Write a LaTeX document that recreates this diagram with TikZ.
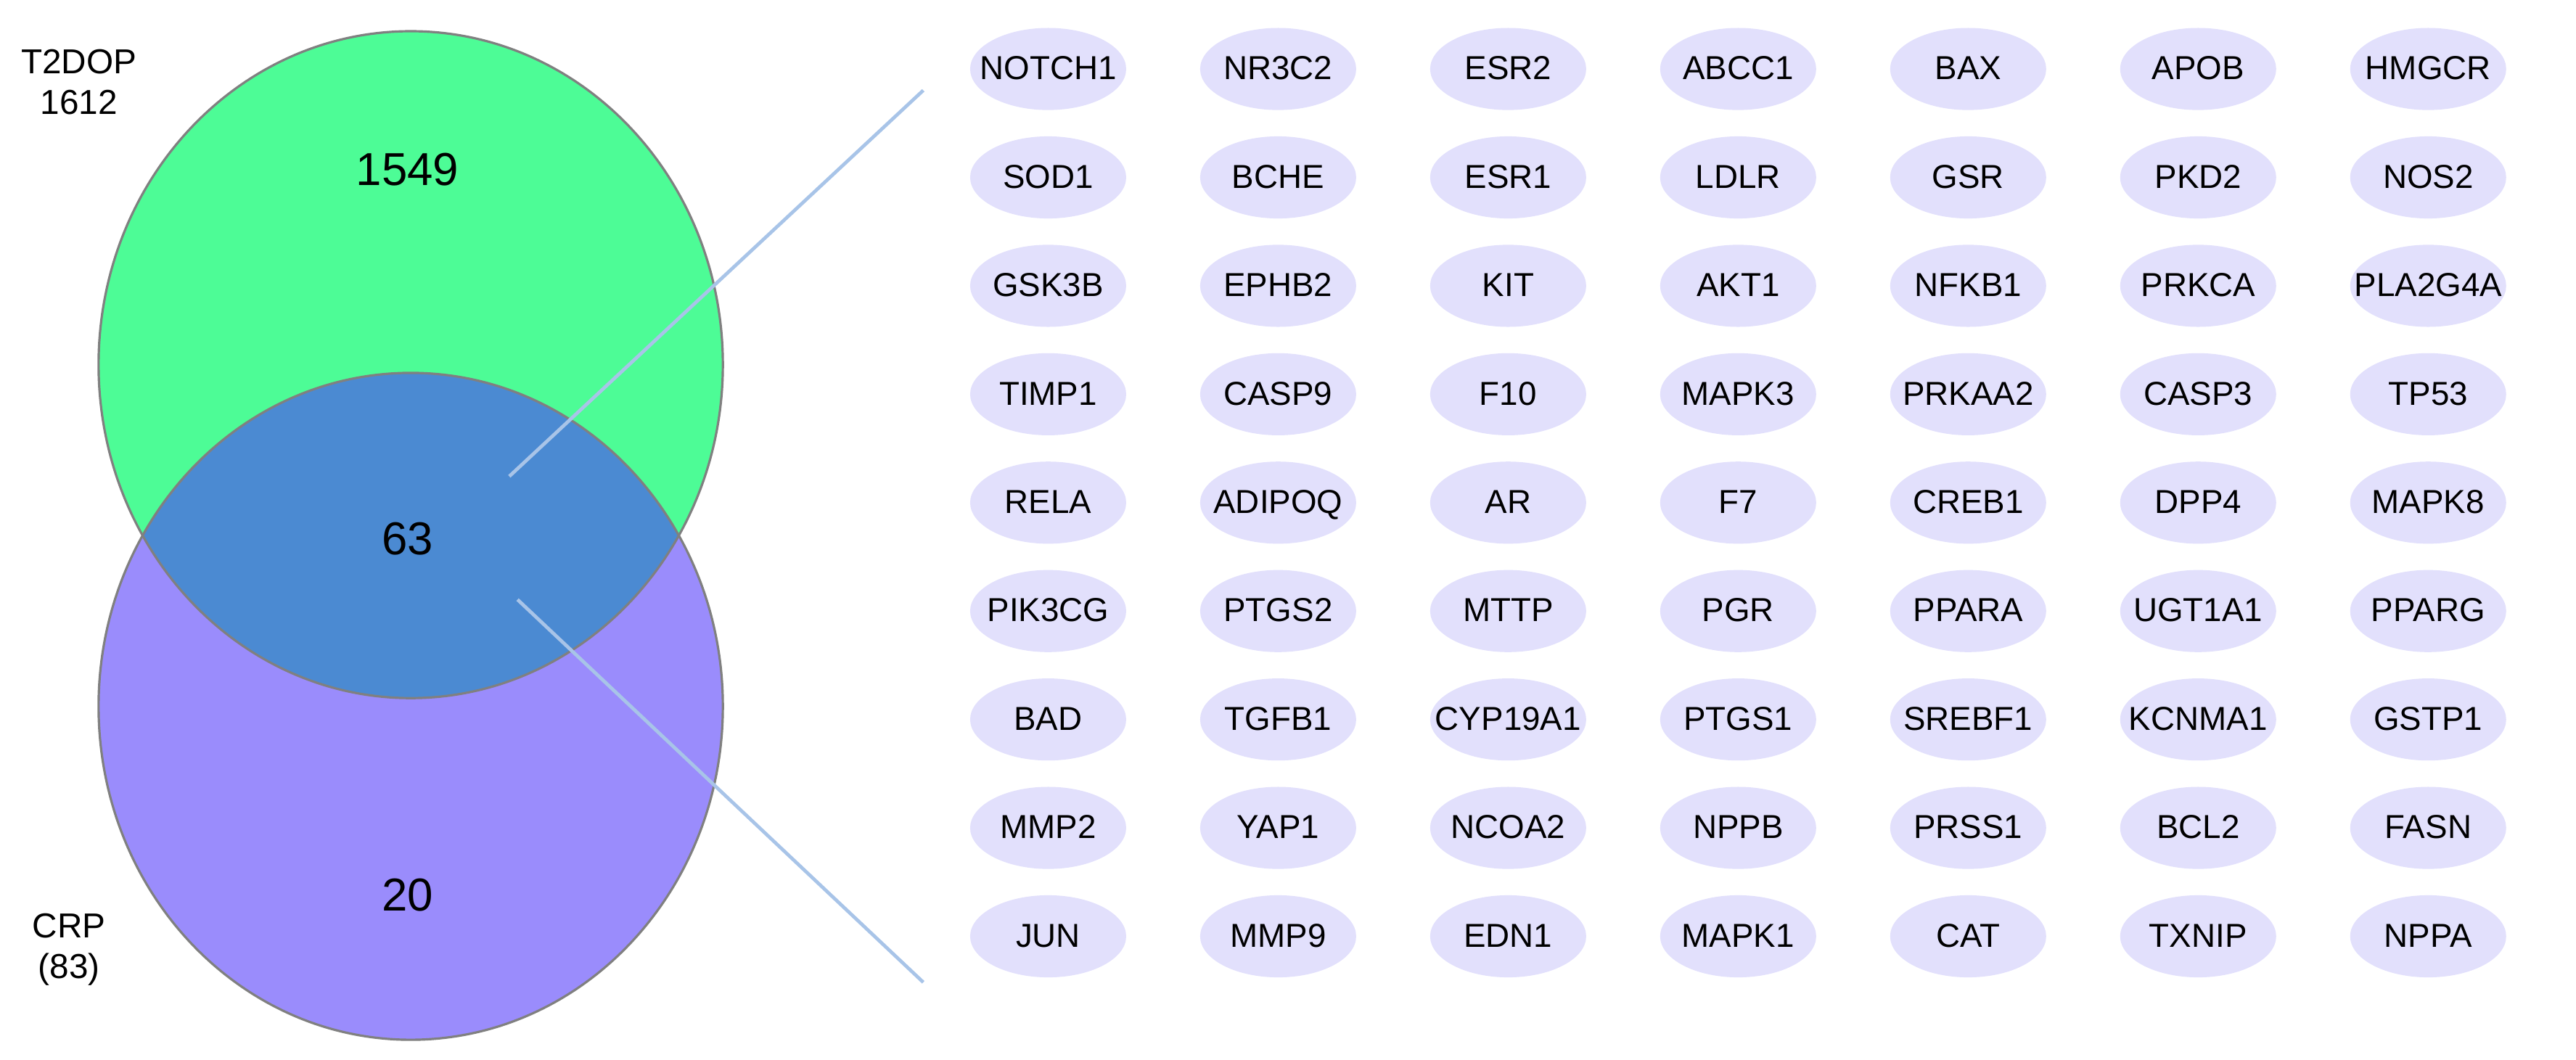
\documentclass[tikz,border=0pt]{standalone}
\usepackage{fontspec}
\setmainfont{Liberation Sans}
\definecolor{setgreen}{HTML}{4DFC96}
\definecolor{setpurple}{HTML}{9A8CFC}
\definecolor{setboth}{HTML}{4B8AD2}
\definecolor{genefill}{HTML}{E2E0FC}
\definecolor{linkblue}{HTML}{A8C4E8}
\tikzset{
  gene/.style = {ellipse, fill = genefill, minimum width = 1.9cm, minimum height = 1cm, inner sep = 0pt, text width = 1cm, align = center, text height = 1.6ex, text depth = 0.2ex, font = \fontsize{11.5}{13}\selectfont},
  count/.style = {font = \fontsize{16}{18}\selectfont},
  setname/.style = {align = center, font = \fontsize{12}{14}\selectfont},
  link/.style = {draw = linkblue, line width = 1.2pt}
}
\usetikzlibrary{shapes.geometric}
\begin{document}
\begin{tikzpicture}[x=0.02cm, y=-0.02cm]
    \useasboundingbox (0, 0) rectangle (1568, 645);
    \fill [setgreen] (250, 222) ellipse (190 and 203);
    \fill [setpurple] (250, 430) ellipse (190 and 203);
    \begin{scope}
        \clip (250, 222) ellipse (190 and 203);
        \fill [setboth] (250, 430) ellipse (190 and 203);
    \end{scope}
    \draw [gray, thick] (250, 222) ellipse (190 and 203);
    \draw [gray, thick] (250, 430) ellipse (190 and 203);
    \node[setname] (topname) at (48, 50) {T2DOP\\1612};
    \node[setname] (botname) at (42, 578) {CRP\\(83)};
    \node[count] (only1) at (248, 103) {1549};
    \node[count] (shared) at (248, 328) {63};
    \node[count] (only2) at (248, 545) {20};
    \coordinate (linkA) at (310, 290);
    \coordinate (linkB) at (315, 365);
    \coordinate (endA) at (562, 55);
    \coordinate (endB) at (562, 598);
    \draw[link] (linkA) -- (endA);
    \draw[link] (linkB) -- (endB);
    \foreach \row [count = \r] in {
        {NOTCH1,NR3C2,ESR2,ABCC1,BAX,APOB,HMGCR},
        {SOD1,BCHE,ESR1,LDLR,GSR,PKD2,NOS2},
        {GSK3B,EPHB2,KIT,AKT1,NFKB1,PRKCA,PLA2G4A},
        {TIMP1,CASP9,F10,MAPK3,PRKAA2,CASP3,TP53},
        {RELA,ADIPOQ,AR,F7,CREB1,DPP4,MAPK8},
        {PIK3CG,PTGS2,MTTP,PGR,PPARA,UGT1A1,PPARG},
        {BAD,TGFB1,CYP19A1,PTGS1,SREBF1,KCNMA1,GSTP1},
        {MMP2,YAP1,NCOA2,NPPB,PRSS1,BCL2,FASN},
        {JUN,MMP9,EDN1,MAPK1,CAT,TXNIP,NPPA}}
        \foreach \g [count = \c] in \row
            \node[gene] (g-\r-\c) at ({638 + 140*(\c-1)}, {42 + 66*(\r-1)}) {\makebox[1cm]{\g}};
\end{tikzpicture}
\end{document}
